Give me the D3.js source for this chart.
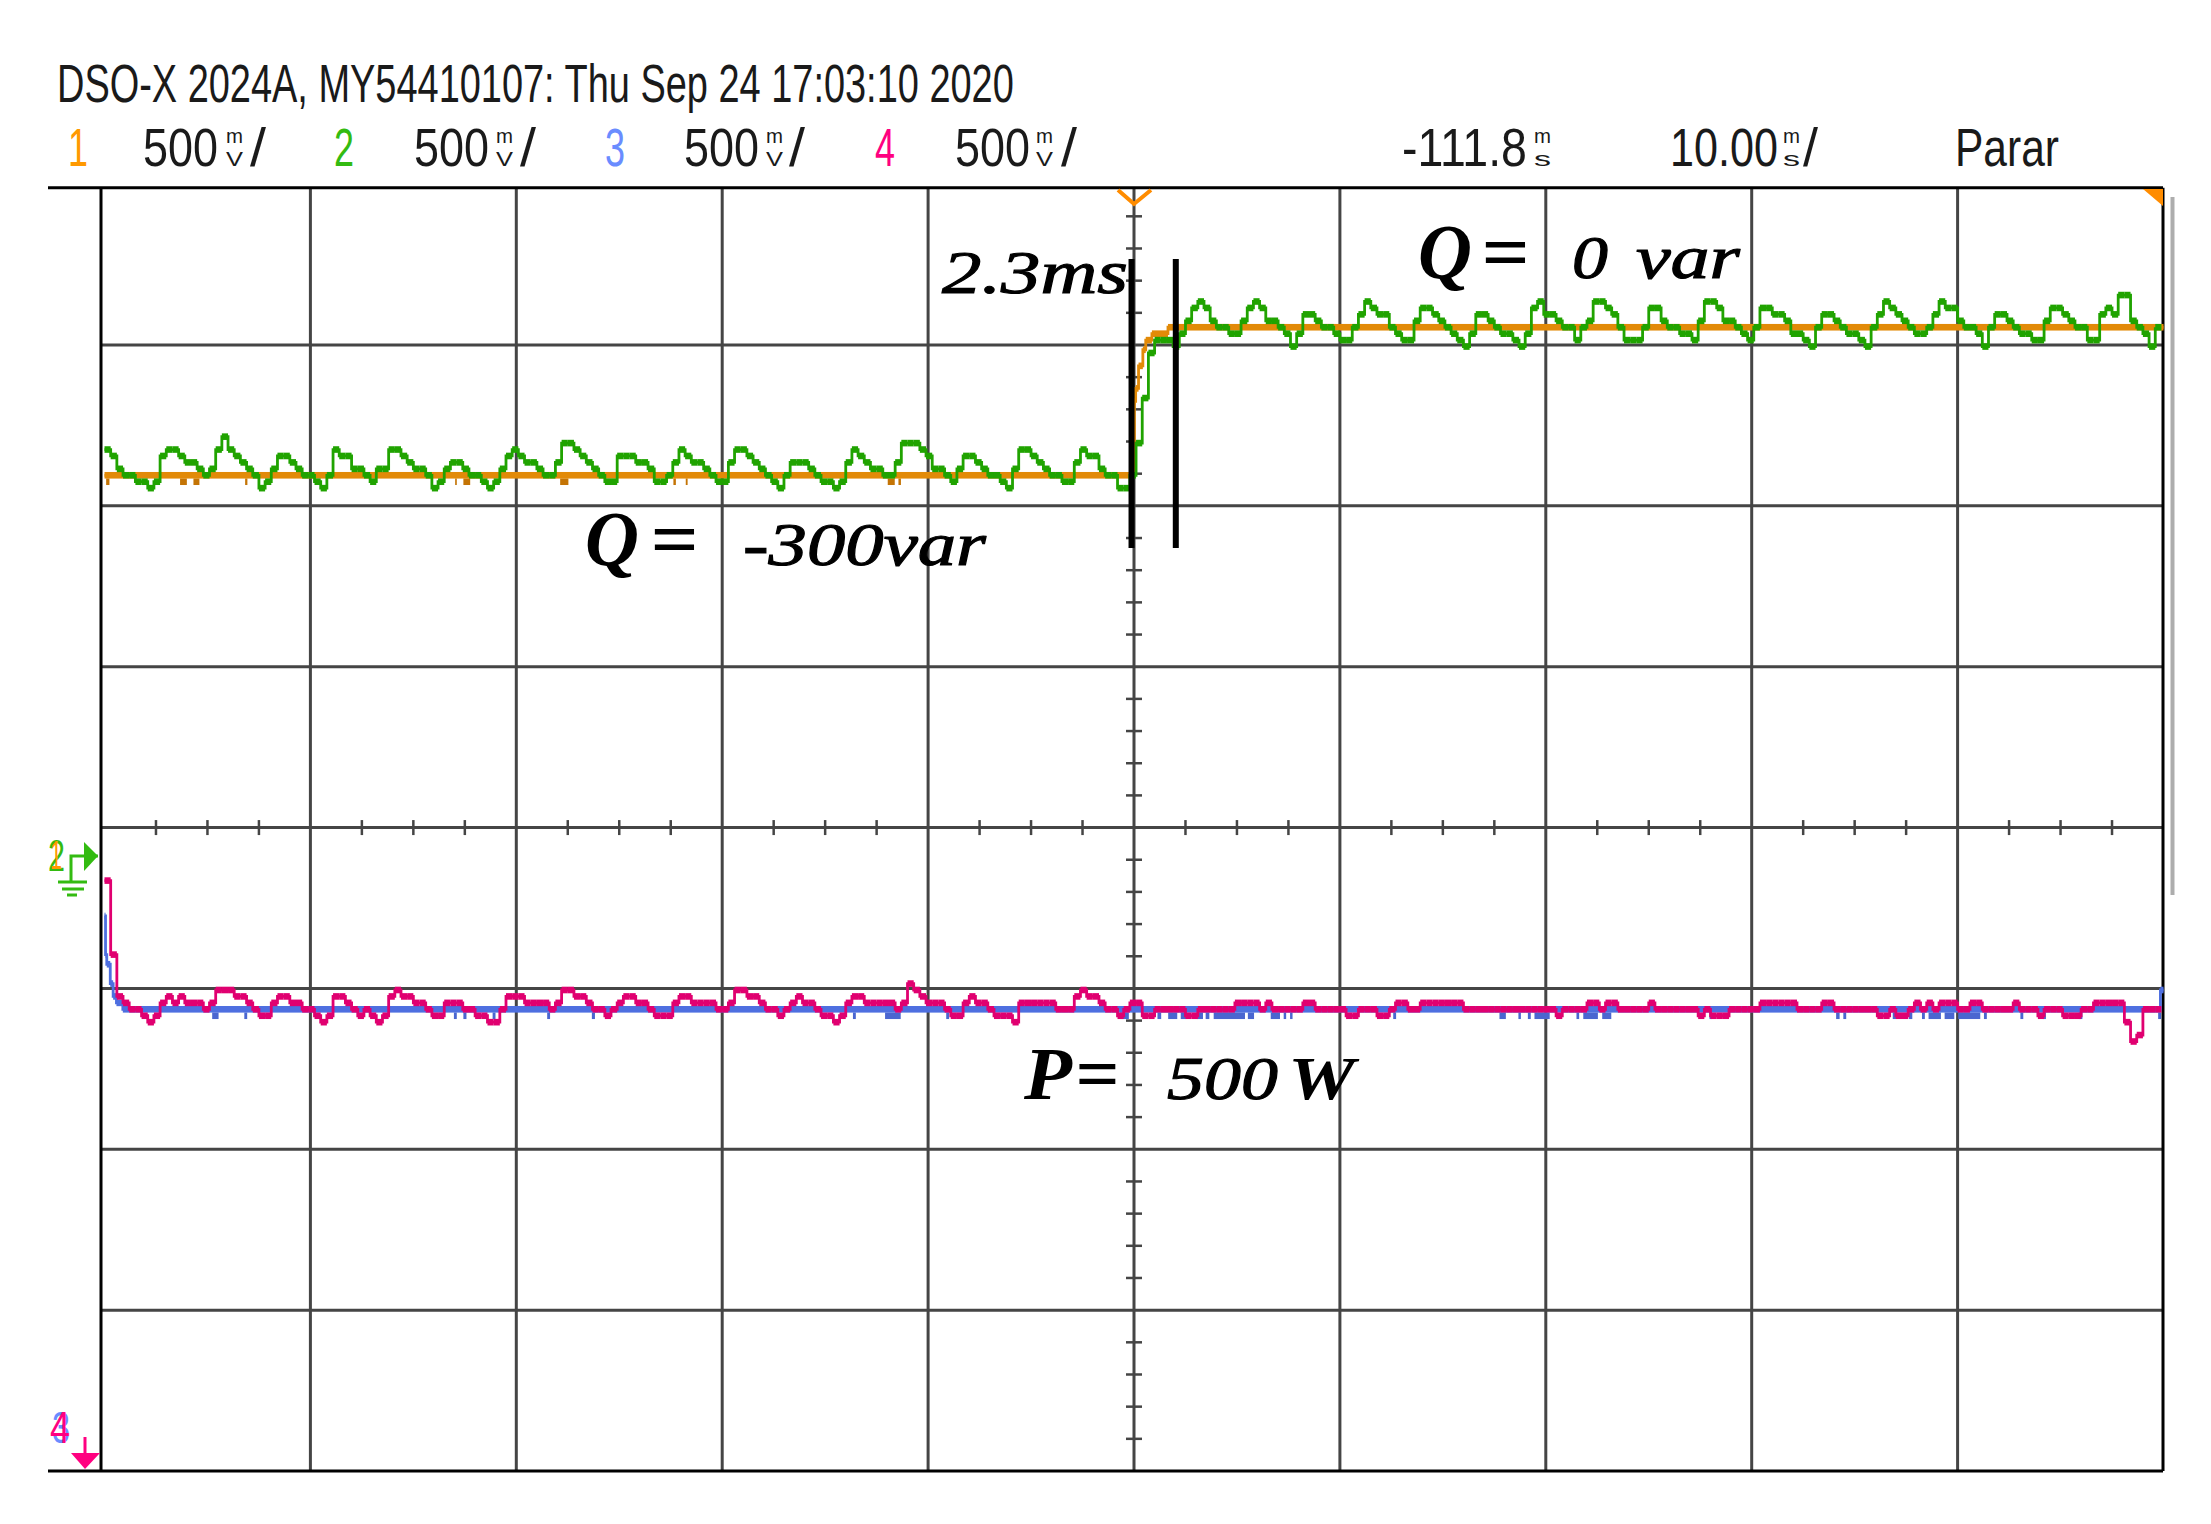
<!DOCTYPE html>
<html>
<head>
<meta charset="utf-8">
<script src="https://d3js.org/d3.v7.min.js"></script>
<style>
  body { margin: 0; background: #fff; }
  svg { display: block; }
  .scope text { font-family: "Liberation Sans", Arial, sans-serif; }
  .note text { font-family: "Liberation Serif", serif; font-style: italic; fill: #000; }
  .note text.big { font-weight: bold; }
  .note text.thin { stroke: #000; stroke-width: 1.1; }
</style>
</head>
<body>
<div id="graph"></div>
<script>
// Screen settings read from the scope header
const headerTitle = 'DSO-X 2024A, MY54410107: Thu Sep 24 17:03:10 2020';
const channelNames = ['1', '2', '3', '4'];
const channelColors = ['#ff9900', '#33bb11', '#6a8cff', '#ff0080'];
const channelScale = ['500', '500', '500', '500'];

// Time of one record point on channels 2 and 4, in ms
const sampleStep = 0.3;

// Channel 1 (reactive power reference), change points: ms, V
const ch1Time = [-50, 0.02, 0.08, 0.22, 0.43, 0.57, 0.87, 1.65, 50];
const ch1Volts = [1.18, 1.41, 1.45, 1.52, 1.57, 1.60, 1.62, 1.64, 1.64];
const ch1DipStart = [-49.92, -46.33, -45.68, -43.17, -32.97, -32.57, -27.87, -22.37, -21.77, -11.96, -11.44];
const ch1DipEnd = [-49.76, -46.0, -45.39, -43.06, -32.89, -32.24, -27.47, -22.25, -21.68, -11.62, -11.32];

// Channel 2 (measured reactive power), one value per record point, V
const ch2Volts = [
  1.26,1.24,1.20,1.18,1.18,1.16,1.16,1.14,1.16,1.24,
  1.26,1.26,1.24,1.22,1.22,1.20,1.18,1.20,1.26,1.30,
  1.26,1.24,1.22,1.20,1.18,1.14,1.16,1.20,1.24,1.24,
  1.22,1.20,1.18,1.18,1.16,1.14,1.18,1.26,1.24,1.24,
  1.20,1.20,1.18,1.16,1.20,1.20,1.26,1.26,1.24,1.22,
  1.20,1.20,1.18,1.14,1.16,1.20,1.22,1.22,1.20,1.18,
  1.18,1.16,1.14,1.16,1.20,1.24,1.26,1.24,1.22,1.22,
  1.20,1.18,1.18,1.22,1.28,1.28,1.26,1.24,1.22,1.20,
  1.18,1.16,1.16,1.24,1.24,1.24,1.22,1.22,1.20,1.16,
  1.16,1.18,1.22,1.26,1.24,1.22,1.22,1.20,1.18,1.16,
  1.16,1.22,1.26,1.26,1.24,1.22,1.20,1.18,1.16,1.14,
  1.18,1.22,1.22,1.22,1.20,1.18,1.16,1.16,1.14,1.16,
  1.22,1.26,1.24,1.22,1.20,1.20,1.18,1.18,1.22,1.28,
  1.28,1.28,1.26,1.24,1.20,1.20,1.18,1.16,1.20,1.24,
  1.24,1.22,1.20,1.18,1.18,1.16,1.14,1.20,1.26,1.26,
  1.24,1.22,1.20,1.18,1.18,1.16,1.16,1.22,1.26,1.24,
  1.24,1.20,1.18,1.18,1.14,1.14,1.18,1.28,1.42,1.56,
  1.60,1.60,1.60,1.58,1.62,1.66,1.70,1.72,1.70,1.66,
  1.64,1.64,1.62,1.62,1.66,1.70,1.72,1.70,1.66,1.66,
  1.64,1.62,1.58,1.62,1.68,1.68,1.66,1.64,1.64,1.62,
  1.60,1.60,1.64,1.68,1.72,1.70,1.68,1.68,1.64,1.62,
  1.60,1.60,1.66,1.70,1.70,1.68,1.66,1.64,1.62,1.60,
  1.58,1.62,1.68,1.68,1.66,1.64,1.62,1.62,1.60,1.58,
  1.62,1.70,1.72,1.68,1.68,1.66,1.64,1.64,1.60,1.64,
  1.66,1.72,1.72,1.70,1.68,1.64,1.60,1.60,1.60,1.64,
  1.70,1.70,1.66,1.64,1.64,1.62,1.62,1.60,1.66,1.72,
  1.72,1.70,1.66,1.66,1.64,1.62,1.60,1.64,1.70,1.70,
  1.68,1.68,1.66,1.62,1.62,1.60,1.58,1.64,1.68,1.68,
  1.66,1.64,1.62,1.62,1.60,1.58,1.64,1.68,1.72,1.70,
  1.68,1.66,1.64,1.62,1.62,1.64,1.68,1.72,1.70,1.70,
  1.66,1.64,1.64,1.62,1.58,1.64,1.68,1.68,1.66,1.64,
  1.62,1.62,1.60,1.60,1.66,1.70,1.70,1.68,1.66,1.64,
  1.64,1.60,1.60,1.68,1.70,1.68,1.74,1.74,1.66,1.64,
  1.62,1.58,1.64
];

// Channel 3 (active power reference), change points: ms, V
const ch3Time = [-50, -49.95, -49.89, -49.72, -49.58, -49.42, -49.11, 49.85, 50];
const ch3Volts = [1.73, 1.61, 1.58, 1.52, 1.48, 1.46, 1.44, 1.50, 1.50];
const ch3DipStart = [-44.77, -43.21, -33.03, -32.57, -31.15, -28.50, -26.33, -13.65, -12.09, -9.12,
  -0.68, 1.14, 1.66, 2.27, 3.05, 3.48, 3.87, 5.53, 6.64, 7.27, 7.58, 12.59, 17.75, 18.67, 19.13, 19.45,
  21.49, 21.82, 22.74, 27.95, 34.1, 34.45, 36.85, 37.63, 38.27, 38.59, 39.37, 40.03, 41.28, 43.05, 44.15, 45.88, 49.74];
const ch3DipEnd = [-44.46, -43.07, -32.89, -32.42, -31.01, -28.36, -26.18, -13.51, -11.33, -8.98,
  -0.25, 1.32, 2.10, 2.53, 3.35, 3.66, 5.39, 5.83, 7.09, 7.39, 7.70, 12.73, 18.06, 18.79, 19.27, 20.19,
  21.62, 22.53, 23.18, 28.07, 34.27, 34.59, 37.02, 37.80, 38.41, 39.19, 39.84, 41.1, 41.42, 43.19, 44.29, 46.06, 49.88];

// Channel 4 (measured active power), one value per record point, V
const ch4Volts = [
  1.84,1.61,1.48,1.46,1.44,1.44,1.42,1.40,1.42,1.46,
  1.48,1.46,1.48,1.46,1.46,1.46,1.44,1.46,1.50,1.50,
  1.50,1.48,1.48,1.46,1.44,1.42,1.42,1.46,1.48,1.48,
  1.46,1.46,1.44,1.44,1.42,1.40,1.42,1.48,1.48,1.46,
  1.44,1.42,1.44,1.42,1.40,1.42,1.48,1.50,1.48,1.48,
  1.46,1.46,1.44,1.42,1.42,1.46,1.46,1.46,1.44,1.44,
  1.42,1.42,1.40,1.40,1.44,1.48,1.48,1.48,1.46,1.46,
  1.46,1.46,1.44,1.46,1.50,1.50,1.48,1.48,1.46,1.44,
  1.44,1.42,1.44,1.46,1.48,1.48,1.46,1.46,1.44,1.42,
  1.42,1.42,1.46,1.48,1.48,1.46,1.46,1.46,1.46,1.44,
  1.44,1.46,1.50,1.50,1.48,1.48,1.46,1.44,1.44,1.42,
  1.44,1.46,1.48,1.46,1.46,1.44,1.42,1.42,1.40,1.42,
  1.46,1.48,1.48,1.46,1.46,1.46,1.46,1.46,1.44,1.46,
  1.52,1.50,1.48,1.46,1.46,1.46,1.44,1.42,1.42,1.46,
  1.48,1.46,1.46,1.44,1.42,1.42,1.42,1.40,1.46,1.46,
  1.46,1.46,1.46,1.46,1.44,1.44,1.44,1.48,1.50,1.48,
  1.48,1.46,1.44,1.44,1.42,1.44,1.46,1.46,1.42,1.42,
  1.44,1.44,1.44,1.44,1.44,1.42,1.42,1.44,1.44,1.44,
  1.44,1.44,1.44,1.46,1.46,1.46,1.46,1.44,1.46,1.44,
  1.44,1.44,1.44,1.44,1.46,1.46,1.44,1.44,1.44,1.44,
  1.44,1.42,1.42,1.44,1.44,1.44,1.42,1.42,1.44,1.46,
  1.46,1.44,1.44,1.46,1.46,1.46,1.46,1.46,1.46,1.46,
  1.44,1.44,1.44,1.44,1.44,1.44,1.44,1.44,1.44,1.44,
  1.44,1.44,1.44,1.44,1.44,1.42,1.44,1.44,1.44,1.44,
  1.46,1.46,1.44,1.46,1.46,1.44,1.44,1.44,1.44,1.44,
  1.46,1.44,1.44,1.44,1.44,1.44,1.44,1.44,1.42,1.44,
  1.42,1.42,1.42,1.44,1.44,1.44,1.44,1.44,1.46,1.46,
  1.46,1.46,1.46,1.46,1.44,1.44,1.44,1.44,1.46,1.46,
  1.44,1.44,1.44,1.44,1.44,1.44,1.44,1.42,1.42,1.44,
  1.42,1.42,1.44,1.46,1.44,1.46,1.44,1.46,1.46,1.46,
  1.44,1.44,1.46,1.46,1.44,1.44,1.44,1.44,1.44,1.46,
  1.44,1.44,1.44,1.42,1.44,1.44,1.44,1.42,1.42,1.42,
  1.44,1.44,1.46,1.46,1.46,1.46,1.46,1.40,1.34,1.36,
  1.44,1.44,1.44
];

// Cursors of the rise time measurement, ms
const cursorTime = [-0.12, 2.03];

const width = 2211;
const height = 1524;
const frame = { left: 101, right: 2163, top: 187.7, bottom: 1471 };

const svg = d3.select('#graph').append('svg').attr('width', width).attr('height', height);
svg.append('rect').attr('width', width).attr('height', height).attr('fill', '#fff');

// Scales
const xScale = d3.scaleLinear().domain([-50, 50]).range([104.5, 2163.5]);
const rowScale = d3.scaleLinear().domain([1, 8]).range([345, 1471]);
const yUpper = d3.scaleLinear().domain([0, 1.5]).range([855, 372.3]);
const yLower = d3.scaleLinear().domain([0, 1.5]).range([1472.7, 990]);

// Graticule
const divTimes = d3.range(-40, 50, 10);
const divRows = d3.range(1, 8);
const gridColor = '#454545';

const cleanAxis = (g) => {
  g.select('.domain').remove();
  g.selectAll('line').attr('stroke', gridColor);
};

svg.append('g')
  .attr('transform', `translate(0,${frame.top})`)
  .call(d3.axisBottom(xScale).tickValues(divTimes).tickSize(frame.bottom - frame.top).tickFormat('').offset(0))
  .call(cleanAxis)
  .selectAll('line').attr('stroke-width', 3);

svg.append('g')
  .attr('transform', `translate(${frame.left},0)`)
  .call(d3.axisRight(rowScale).tickValues(divRows).tickSize(frame.right - frame.left).tickFormat('').offset(0))
  .call(cleanAxis)
  .selectAll('line').attr('stroke-width', 3);

// Minor ticks on the two centre lines
const minorTimes = d3.range(-47.5, 50, 2.5).filter((t) => t % 10 !== 0);
const minorRows = d3.range(0.2, 8, 0.2)
  .filter((r) => Math.abs(r - Math.round(r)) > 0.01);

svg.append('g')
  .attr('transform', `translate(0,${rowScale(4) - 7.5})`)
  .call(d3.axisBottom(xScale).tickValues(minorTimes).tickSize(15).tickFormat('').offset(0))
  .call(cleanAxis)
  .selectAll('line').attr('stroke-width', 2.5);

svg.append('g')
  .attr('transform', `translate(${xScale(0) - 8},0)`)
  .call(d3.axisRight(rowScale).tickValues(minorRows).tickSize(16).tickFormat('').offset(0))
  .call(cleanAxis)
  .selectAll('line').attr('stroke-width', 2.5);

// Frame
const frameLines = [
  [48, frame.top, frame.right, frame.top],
  [48, frame.bottom, frame.right, frame.bottom],
  [frame.left, frame.top, frame.left, frame.bottom],
  [frame.right, frame.top, frame.right, frame.bottom],
];
svg.append('g').selectAll('line').data(frameLines).join('line')
  .attr('x1', (d) => d[0]).attr('y1', (d) => d[1])
  .attr('x2', (d) => d[2]).attr('y2', (d) => d[3])
  .attr('stroke', '#000').attr('stroke-width', 3);

// Scroll bar on the right of the screen
svg.append('rect').attr('x', 2170.5).attr('y', 197).attr('width', 4).attr('height', 698).attr('fill', '#adadad');

// Trigger marks
svg.append('path')
  .attr('d', 'M1118,190L1134,204L1151,190')
  .attr('fill', 'none').attr('stroke', '#ff8c00').attr('stroke-width', 4);
svg.append('path')
  .attr('d', 'M2143,189L2163,189L2163,206Z')
  .attr('fill', '#ff8c00');

// Traces
const sampleTimes = (values) => values.map((v, i) => -50 + i * sampleStep);

const drawTrace = (times, volts, yScale, color) => {
  const rows = times.map((t, i) => ({ t, v: volts[i], next: i < times.length - 1 ? times[i + 1] : t + sampleStep }));
  const g = svg.append('g');

  const line = d3.line()
    .x((d) => xScale(d.t))
    .y((d) => yScale(d.v))
    .curve(d3.curveStepAfter);

  g.append('path')
    .datum(rows)
    .attr('d', line)
    .attr('fill', 'none')
    .attr('stroke', color)
    .attr('stroke-width', 2.8);

  g.selectAll('rect').data(rows).join('rect')
    .attr('x', (d) => xScale(d.t))
    .attr('y', (d) => yScale(d.v) - 3.3)
    .attr('width', (d) => Math.min(xScale(d.next), xScale(50)) - xScale(d.t))
    .attr('height', 6.6)
    .attr('fill', color);
};

const drawDips = (starts, ends, volts, yScale, color) => {
  svg.append('g').selectAll('rect').data(starts).join('rect')
    .attr('x', (d) => xScale(d))
    .attr('y', yScale(volts) - 3.3)
    .attr('width', (d, i) => xScale(ends[i]) - xScale(d))
    .attr('height', 6.6)
    .attr('fill', color);
};

drawDips(ch1DipStart, ch1DipEnd, 1.16, yUpper, '#c47405');
drawTrace(ch1Time, ch1Volts, yUpper, '#e28a08');
drawTrace(sampleTimes(ch2Volts), ch2Volts, yUpper, '#20a300');
drawDips(ch3DipStart, ch3DipEnd, 1.42, yLower, '#4a66d0');
drawTrace(ch3Time, ch3Volts, yLower, '#4e6fe0');
drawTrace(sampleTimes(ch4Volts), ch4Volts, yLower, '#e00070');

// Cursors drawn by hand on the screenshot
svg.append('g').selectAll('line').data(cursorTime).join('line')
  .attr('x1', (d) => xScale(d)).attr('x2', (d) => xScale(d))
  .attr('y1', 259).attr('y2', 548)
  .attr('stroke', '#000').attr('stroke-width', 6);

// Header texts, squeezed to the width they have on the scope screen
const scope = svg.append('g').attr('class', 'scope');

const label = (parent, text, x, y, size, length, color, cls) => {
  const t = parent.append('text')
    .attr('font-size', size)
    .attr('fill', color || '#1a1a1a')
    .attr('class', cls || null)
    .text(text);
  const natural = t.node().getComputedTextLength();
  t.attr('transform', `translate(${x},${y}) scale(${length / natural},1)`);
  return t;
};

label(scope, headerTitle, 57, 102, 54, 957);

const channelX = [
  { name: 68, value: 143, unit: 226, slash: 250 },
  { name: 334, value: 414, unit: 496, slash: 520 },
  { name: 605, value: 684, unit: 766, slash: 789 },
  { name: 875, value: 955, unit: 1036, slash: 1061 },
];
channelX.forEach((c, i) => {
  label(scope, channelNames[i], c.name, 166, 53, 20, channelColors[i]);
  label(scope, channelScale[i], c.value, 166, 53, 75);
  label(scope, 'm', c.unit, 143, 20, 17);
  label(scope, 'V', c.unit, 166, 20, 17);
  label(scope, '/', c.slash, 166, 53, 16);
});

label(scope, '-111.8', 1402, 166, 53, 125);
label(scope, 'm', 1534, 143, 20, 17);
label(scope, 's', 1534, 166, 20, 17);
label(scope, '10.00', 1670, 166, 53, 108);
label(scope, 'm', 1783, 143, 20, 17);
label(scope, 's', 1783, 166, 20, 17);
label(scope, '/', 1803, 166, 53, 15);
label(scope, 'Parar', 1955, 166, 53, 104);

// Ground marks of the channels
label(scope, '2', 48, 871, 44, 17, channelColors[1]);
label(scope, '1', 50, 869, 40, 12, channelColors[0]);
const groundPaths = ['M98,856L71,856L71,882', 'M58,882L87,882', 'M62,889L84,889', 'M67,895L77,895'];
svg.append('g').selectAll('path').data(groundPaths).join('path')
  .attr('d', (d) => d)
  .attr('fill', 'none').attr('stroke', channelColors[1]).attr('stroke-width', 3);
svg.append('path').attr('d', 'M84,842L98,856L84,871Z').attr('fill', channelColors[1]);

label(scope, '3', 52, 1443, 44, 18, channelColors[2]);
label(scope, '4', 50, 1443, 44, 20, channelColors[3]);
svg.append('path').attr('d', 'M85,1437L85,1455').attr('stroke', channelColors[3]).attr('stroke-width', 3);
svg.append('path').attr('d', 'M71,1453L100,1453L85,1469Z').attr('fill', channelColors[3]);

// Annotations
const note = svg.append('g').attr('class', 'note');
label(note, '2.3ms', 942, 293, 62, 186, '#000', 'thin');
label(note, 'Q', 1418, 278, 78, 54, '#000', 'big');
label(note, '=', 1481, 278, 78, 48, '#000', 'big');
label(note, '0', 1572, 278, 62, 36, '#000', 'thin');
label(note, 'var', 1636, 278, 62, 104, '#000', 'thin');
label(note, 'Q', 585, 565, 78, 54, '#000', 'big');
label(note, '=', 650, 565, 78, 48, '#000', 'big');
label(note, '-300var', 743, 565, 62, 243, '#000', 'thin');
label(note, 'P', 1024, 1099, 74, 48, '#000', 'big');
label(note, '=', 1075, 1099, 74, 44, '#000', 'big');
label(note, '500', 1167, 1099, 62, 111, '#000', 'thin');
label(note, 'W', 1288, 1099, 62, 67, '#000', 'big');
</script>
</body>
</html>
